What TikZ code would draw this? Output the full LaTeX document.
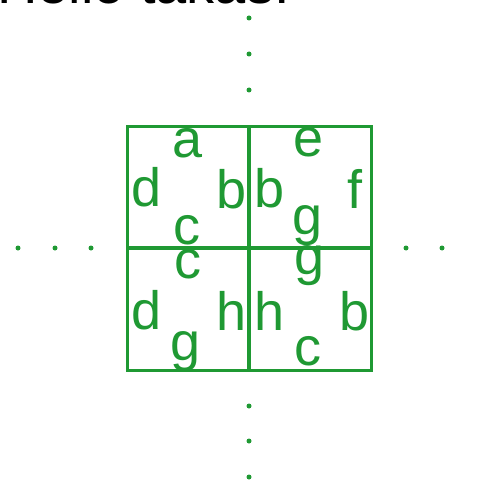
\documentclass[tikz,border=0pt]{standalone}
\usepackage{fontspec}
\setmainfont{Liberation Sans}
\definecolor{tilegreen}{RGB}{31,153,51}
\begin{document}
\begin{tikzpicture}[x=1pt,y=-1pt,
  edge/.style={draw=tilegreen,line width=3pt},
  midline/.style={draw=tilegreen,line width=3.6pt},
  lbl/.style={text=tilegreen,inner sep=0pt,anchor=base,font=\fontsize{54}{54}\selectfont},
  dotn/.style={circle,fill=tilegreen,inner sep=0pt,minimum size=5pt}]
\useasboundingbox (0,0) rectangle (476,484);
\node[anchor=base west,inner sep=0pt,font=\fontsize{56}{56}\selectfont] (title) at (-3,4) {Hello takas!};
% grid
\coordinate (nw) at (127,126);
\coordinate (se) at (371,370);
\coordinate (tm) at (249,126);
\coordinate (bm) at (249,370);
\coordinate (lm) at (127,248);
\coordinate (rm) at (371,248);
\draw[edge] (nw) rectangle (se);
\draw[midline] (tm) -- (bm);
\draw[midline] (lm) -- (rm);
% top-left
\node[lbl] (a1) at (188,157) {a};
\node[lbl] (d1) at (147,206) {d};
\node[lbl] (b1) at (232,208) {b};
\node[lbl] (c1) at (187,244) {c};
% top-right
\node[lbl] (e2) at (309,156) {e};
\node[lbl] (b2) at (270,207) {b};
\node[lbl] (f2) at (355,208) {f};
\node[lbl] (g2) at (308,234) {g};
% bottom-left
\node[lbl] (c3) at (188,278) {c};
\node[lbl] (d3) at (147,329) {d};
\node[lbl] (h3) at (232,330) {h};
\node[lbl] (g3) at (186,360) {g};
% bottom-right
\node[lbl] (g4) at (310,274) {g};
\node[lbl] (h4) at (270,330) {h};
\node[lbl] (b4) at (355,330) {b};
\node[lbl] (c4) at (308,365) {c};
% dots
\node[dotn] (u1) at (249,18) {};
\node[dotn] (u2) at (249,54) {};
\node[dotn] (u3) at (249,90) {};
\node[dotn] (d1x) at (249,406) {};
\node[dotn] (d2x) at (249,441) {};
\node[dotn] (d3x) at (249,477) {};
\node[dotn] (l1) at (18,248) {};
\node[dotn] (l2) at (55,248) {};
\node[dotn] (l3) at (91,248) {};
\node[dotn] (r1) at (406,248) {};
\node[dotn] (r2) at (442,248) {};
\end{tikzpicture}
\end{document}
